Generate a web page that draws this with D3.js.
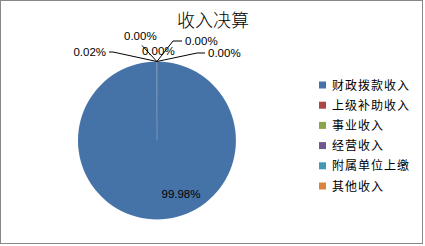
<!DOCTYPE html>
<html>
<head>
<meta charset="utf-8">
<script src="https://cdn.jsdelivr.net/npm/d3@7"></script>
<style>
  body { margin: 0; background: #fff; }
  text { font-family: "Liberation Sans", Arial, "Noto Sans CJK SC", sans-serif; }
</style>
</head>
<body>
<script>
const categories = ['财政拨款收入', '上级补助收入', '事业收入', '经营收入', '附属单位上缴', '其他收入'];
const values = [99.98, 0, 0, 0, 0, 0.02];
const colors = ['#4572A7', '#AA4643', '#89A54E', '#71588F', '#4198AF', '#DB843D'];
const pctLabels = ['99.98%', '0.00%', '0.00%', '0.00%', '0.00%', '0.02%'];

// label layout, relative to pie centre (text x/y, leader elbow, leader end)
const labelLayout = [
    { tx: 24, ty: 53.5, anchor: 'middle', leader: null },
    { tx: 51, ty: -87.5, anchor: 'start', leader: [[40, -87.5], [48, -87.5]] },
    { tx: 28, ty: -99.5, anchor: 'start', leader: [[16, -99.5], [25, -99.5]] },
    { tx: -15, ty: -89.5, anchor: 'start', leader: null },
    { tx: -33, ty: -104.5, anchor: 'start', leader: [[-15, -95]] },
    { tx: -51, ty: -88.5, anchor: 'end', leader: [[-44, -88.5], [-48, -88.5]] }
];

const width = 425;
const height = 246;
const cx = 157, cy = 140.5, radius = 79;

const svg = d3.select('body').append('svg')
    .attr('width', width)
    .attr('height', height);

svg.append('rect')
    .attr('x', 0.5).attr('y', 0.5)
    .attr('width', 422).attr('height', 243)
    .attr('fill', '#fff')
    .attr('stroke', '#888')
    .attr('stroke-width', 1);

svg.append('text')
    .attr('x', 213).attr('y', 27)
    .attr('text-anchor', 'middle')
    .attr('font-size', 18)
    .attr('font-weight', 300)
    .attr('fill', '#000')
    .text('收入决算');

const pie = d3.pie().sort(null).value(d => d)
    .startAngle(0).endAngle(2 * Math.PI);
const arcs = pie(values);
const arc = d3.arc().innerRadius(0).outerRadius(radius);

const g = svg.append('g').attr('transform', `translate(${cx},${cy})`);

g.selectAll('path.slice')
    .data(arcs)
    .enter().append('path')
    .attr('class', 'slice')
    .attr('d', arc)
    .attr('fill', (d, i) => colors[i])
    .attr('stroke', d => d.value > 0 ? 'rgba(255,255,255,0.12)' : 'none')
    .attr('stroke-width', 0.6);

// leader lines from the slice edge
const edgeArc = d3.arc().innerRadius(radius).outerRadius(radius);
const line = d3.line();
g.selectAll('path.leader')
    .data(arcs.filter((d, i) => labelLayout[i].leader))
    .enter().append('path')
    .attr('class', 'leader')
    .attr('d', d => {
        const pts = [edgeArc.centroid(d)].concat(labelLayout[d.index].leader);
        return line(pts);
    })
    .attr('fill', 'none')
    .attr('stroke', '#000')
    .attr('stroke-width', 1);

g.selectAll('text.pct')
    .data(arcs)
    .enter().append('text')
    .attr('class', 'pct')
    .attr('x', d => labelLayout[d.index].tx)
    .attr('y', d => labelLayout[d.index].ty)
    .attr('dy', '0.35em')
    .attr('text-anchor', d => labelLayout[d.index].anchor)
    .attr('font-size', 11.5)
    .attr('fill', '#000')
    .text(d => pctLabels[d.index]);

// legend
const legendY = d3.scalePoint().domain(categories).range([85, 186]);
const legend = svg.append('g');
const item = legend.selectAll('g')
    .data(categories)
    .enter().append('g')
    .attr('transform', d => `translate(319,${legendY(d)})`);

item.append('rect')
    .attr('x', 0).attr('y', -3.5)
    .attr('width', 7).attr('height', 7)
    .attr('fill', (d, i) => colors[i]);

item.append('text')
    .attr('x', 13).attr('y', 0)
    .attr('dy', '0.38em')
    .attr('font-size', 12)
    .attr('letter-spacing', 1)
    .attr('fill', '#000')
    .text(d => d);
</script>
</body>
</html>
